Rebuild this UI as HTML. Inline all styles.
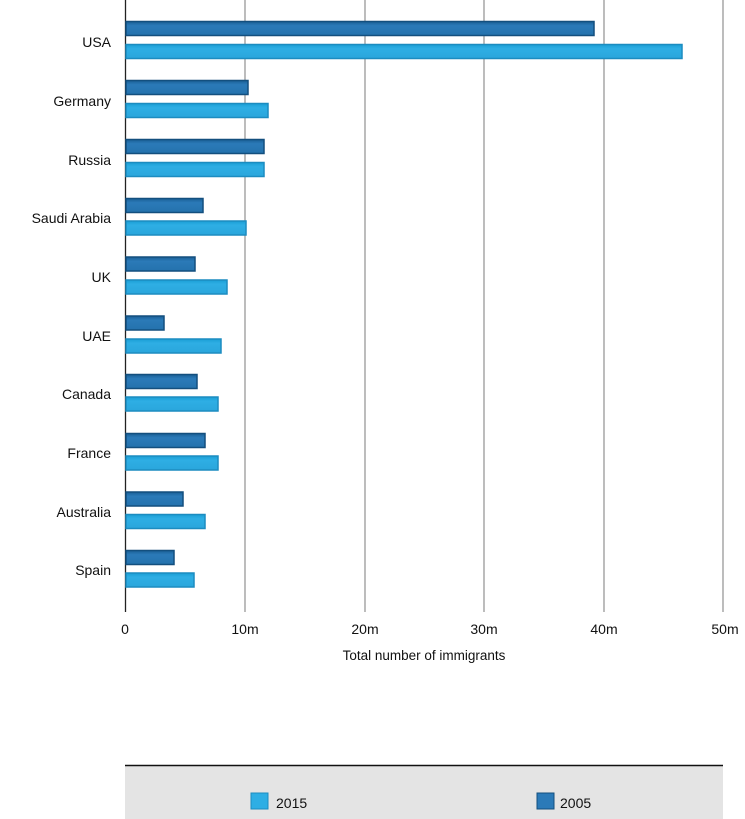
<!DOCTYPE html>
<html><head><meta charset="utf-8"><style>
html,body{margin:0;padding:0;background:#fff;}
svg{display:block;font-family:"Liberation Sans",sans-serif;}
</style></head><body>
<svg width="745" height="819" viewBox="0 0 745 819">
<defs>
<linearGradient id="g1" x1="0" y1="0" x2="0" y2="1"><stop offset="0" stop-color="#1a9fd6"/><stop offset="0.3" stop-color="#2eaee4"/><stop offset="1" stop-color="#2aa6dc"/></linearGradient>
<linearGradient id="g2" x1="0" y1="0" x2="0" y2="1"><stop offset="0" stop-color="#1a5f95"/><stop offset="0.3" stop-color="#2b7ab8"/><stop offset="1" stop-color="#2472ad"/></linearGradient>
</defs>
<g stroke="#999" stroke-width="1.3">
<line x1="245" y1="0" x2="245" y2="612"/><line x1="365" y1="0" x2="365" y2="612"/>
<line x1="484" y1="0" x2="484" y2="612"/><line x1="604" y1="0" x2="604" y2="612"/>
<line x1="723" y1="0" x2="723" y2="612"/>
</g>
<line x1="125.5" y1="0" x2="125.5" y2="612" stroke="#222" stroke-width="1.3"/>
<g stroke-width="1.5">
<g fill="url(#g2)" stroke="#134f7e">
<rect x="126" y="21.5" width="468" height="14"/>
<rect x="126" y="80.5" width="122" height="14"/>
<rect x="126" y="139.5" width="138" height="14"/>
<rect x="126" y="198.5" width="77" height="14"/>
<rect x="126" y="257" width="69" height="14"/>
<rect x="126" y="316" width="38" height="14"/>
<rect x="126" y="374.5" width="71" height="14"/>
<rect x="126" y="433.5" width="79" height="14"/>
<rect x="126" y="492" width="57" height="14"/>
<rect x="126" y="550.5" width="48" height="14"/>
</g>
<g fill="url(#g1)" stroke="#1c8cc0">
<rect x="126" y="44.5" width="556" height="14"/>
<rect x="126" y="103.5" width="142" height="14"/>
<rect x="126" y="162.5" width="138" height="14"/>
<rect x="126" y="221" width="120" height="14"/>
<rect x="126" y="280" width="101" height="14"/>
<rect x="126" y="339" width="95" height="14"/>
<rect x="126" y="397" width="92" height="14"/>
<rect x="126" y="456" width="92" height="14"/>
<rect x="126" y="514.5" width="79" height="14"/>
<rect x="126" y="573" width="68" height="14"/>
</g>
</g>
<g font-size="14" fill="#111" text-anchor="end">
<text x="111" y="47">USA</text><text x="111" y="106">Germany</text>
<text x="111" y="165">Russia</text><text x="111" y="223">Saudi Arabia</text>
<text x="111" y="282">UK</text><text x="111" y="341">UAE</text>
<text x="111" y="399">Canada</text><text x="111" y="458">France</text>
<text x="111" y="517">Australia</text><text x="111" y="575">Spain</text>
</g>
<g font-size="14" fill="#111" text-anchor="middle">
<text x="125" y="634">0</text><text x="245" y="634">10m</text>
<text x="365" y="634">20m</text><text x="484" y="634">30m</text>
<text x="604" y="634">40m</text><text x="725" y="634">50m</text>
<text x="424" y="660" font-size="13.5">Total number of immigrants</text>
</g>
<rect x="125" y="766" width="598" height="53" fill="#e4e4e4"/>
<line x1="125" y1="765.5" x2="723" y2="765.5" stroke="#111" stroke-width="1.5"/>
<rect x="251" y="793" width="17" height="16" fill="#2eaee4" stroke="#1c8cc0"/>
<text x="276" y="808" font-size="14" fill="#111">2015</text>
<rect x="537" y="793" width="17" height="16" fill="#2b7ab8" stroke="#134f7e"/>
<text x="560" y="808" font-size="14" fill="#111">2005</text>
</svg>
</body></html>
